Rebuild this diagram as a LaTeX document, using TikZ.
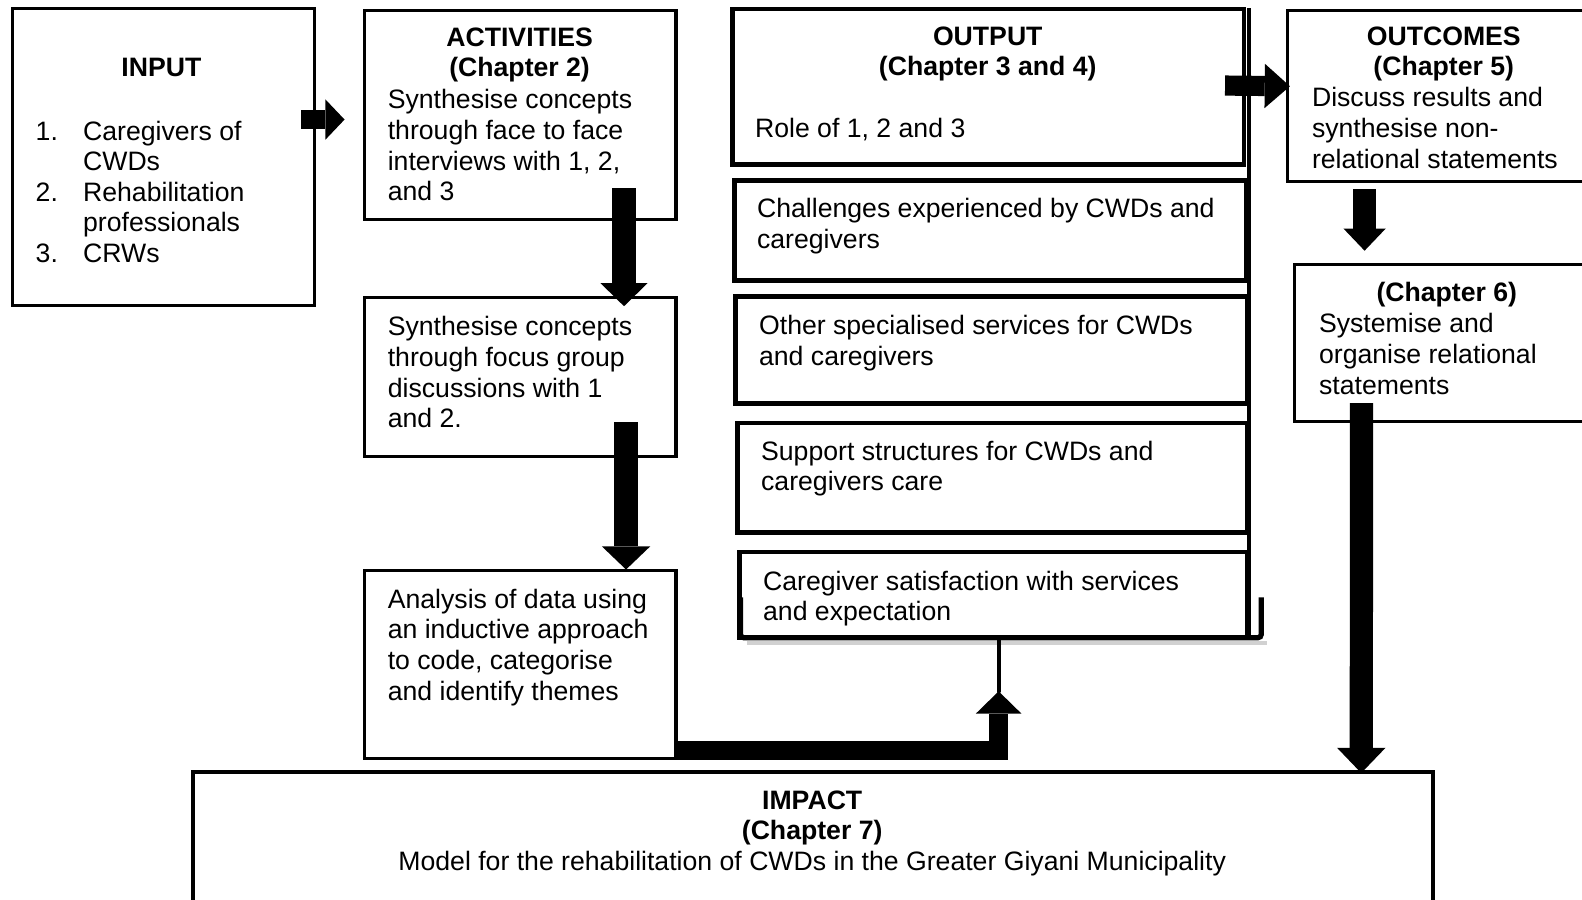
\documentclass[tikz,border=0pt]{standalone}
\usepackage{fontspec}
\setmainfont{Liberation Sans}
\usetikzlibrary{arrows.meta,calc,fit}
\newcommand{\txtl}[1]{\begin{tabular}[t]{@{}l@{}}#1\end{tabular}}
\newcommand{\txtc}[1]{\begin{tabular}[t]{@{}c@{}}#1\end{tabular}}

\begin{document}
\begin{tikzpicture}[x=0.5pt,y=-0.5pt,
  box/.style={draw, line width=1.5pt, fill=white, inner sep=0pt},
  obox/.style={box, line width=2.2pt},
  txt/.style={inner sep=0pt, font=\fontsize{13.2pt}{15.15pt}\selectfont},
  barrow/.style n args={3}{line width=#1, -{Triangle[length=#2, width=#3, line width=0pt]}},
]
\useasboundingbox (0,0) rectangle (1568,892);
\clip (0,0) rectangle (1568,892);

% ---------- boxes ----------
\node[box, fit={(12,8) (312,303)}] (inp) {};
\node[box, fit={(361,10) (670,218)}] (act1) {};
\node[box, fit={(361,295) (670,452)}] (act2) {};
\node[box, fit={(361,565) (670,752)}] (act3) {};

\node[obox, fit={(726,9) (1233,163)}] (out1) {};
\node[obox, fit={(728,179) (1235,278)}] (out2) {};
\node[obox, fit={(729,294) (1236,400)}] (out3) {};
\node[obox, fit={(731,419) (1236,528)}] (out4) {};
\node[obox, fit={(733,547) (1236,632)}] (out5) {};

\node[box, fit={(1276,10) (1590,180)}] (outc) {};
\node[box, fit={(1283,262) (1590,418)}] (ch6) {};
\node[box, line width=1.8pt, fit={(191,765) (1420,910)}] (imp) {};

% ---------- frame round the output column ----------
\draw[black!18, line width=2pt] (740,637.5) -- (1256,637.5);
\draw[line width=2.4pt] (1238,8) -- (1238,632);
\draw[line width=2.6pt, rounded corners=1.5] (734,592) -- (734,632) -- (1250,632) -- (1250,592);

% ---------- texts ----------
\node[txt, anchor=base] (t-inp) at (160,76) {\textbf{INPUT}};
\node[txt, anchor=base west] (t-inplist) at (35,139)
  {\begin{tabular}[t]{@{}p{23.5pt}@{}l@{}}
   1. & Caregivers of\\
      & CWDs\\
   2. & Rehabilitation\\
      & professionals\\
   3. & CRWs
   \end{tabular}};

\node[txt, anchor=base] (h-act1) at (515,46) {\txtc{\textbf{ACTIVITIES}\\\textbf{(Chapter 2)}}};
\node[txt, anchor=base west] (t-act1) at (384,108)
  {\txtl{Synthesise concepts\\through face to face\\interviews with 1, 2,\\and 3}};
\node[txt, anchor=base west] (t-act2) at (384,333)
  {\txtl{Synthesise concepts\\through focus group\\discussions with 1\\and 2.}};
\node[txt, anchor=base west] (t-act3) at (384,603)
  {\txtl{Analysis of data using\\an inductive approach\\to code, categorise\\and identify themes}};

\node[txt, anchor=base] (h-out1) at (979,45) {\txtc{\textbf{OUTPUT}\\\textbf{(Chapter 3 and 4)}}};
\node[txt, anchor=base west] (t-out1) at (748,136) {Role of 1, 2 and 3};
\node[txt, anchor=base west] (t-out2) at (750,216)
  {\txtl{Challenges experienced by CWDs and\\caregivers}};
\node[txt, anchor=base west] (t-out3) at (752,332)
  {\txtl{Other specialised services for CWDs\\and caregivers}};
\node[txt, anchor=base west] (t-out4) at (754,456)
  {\txtl{Support structures for CWDs and\\caregivers care}};
\node[txt, anchor=base west] (t-out5) at (756,585)
  {\txtl{Caregiver satisfaction with services\\and expectation}};

\node[txt, anchor=base] (h-outc) at (1431,45) {\txtc{\textbf{OUTCOMES}\\\textbf{(Chapter 5)}}};
\node[txt, anchor=base west] (t-outc) at (1300,106)
  {\txtl{Discuss results and\\synthesise non-\\relational statements}};

\node[txt, anchor=base] (h-ch6) at (1434,299) {\textbf{(Chapter 6)}};
\node[txt, anchor=base west] (t-ch6) at (1307,330)
  {\txtl{Systemise and\\organise relational\\statements}};

\node[txt, anchor=base] (t-imp) at (805,802)
  {\txtc{\textbf{IMPACT}\\\textbf{(Chapter 7)}\\Model for the rehabilitation of CWDs in the Greater Giyani Municipality}};

% ---------- block arrows ----------
\draw[barrow={9.5pt}{9.5pt}{20pt}]
  ($(inp.north east)+(-15,112)$) -- ($(act1.north west)+(-18,110)$);
\draw[barrow={11.5pt}{11.5pt}{23.5pt}]
  ($(act1.south east)+(-53,-33)$) -- ($(act2.north east)+(-53,10)$);
\draw[barrow={12pt}{11.5pt}{24pt}]
  ($(act2.south east)+(-51,-35)$) -- ($(act3.north east)+(-51,1)$);

\coordinate (a4tip) at ($(out5.south west)+(259,51)$);
\draw[barrow={9.75pt}{11pt}{22.5pt}]
  ($(act3.south east)+(0,-9.75)$) -| (a4tip);
\draw[line width=2pt, line cap=round] (a4tip) -- (a4tip |- out5.south);

\draw[barrow={10pt}{12.5pt}{22pt}]
  ($(out1.north east)+(-21,78)$) -- ($(outc.north west)+(4,77)$);
\draw[barrow={11.5pt}{11pt}{21pt}]
  ($(outc.south west)+(78,6)$) -- ($(ch6.north west)+(71,-12)$);
\draw[barrow={11.5pt}{12.5pt}{24pt}]
  ($(ch6.south west)+(68,-20)$) -- ($(imp.north west)+(1160,3)$);
\end{tikzpicture}
\end{document}
